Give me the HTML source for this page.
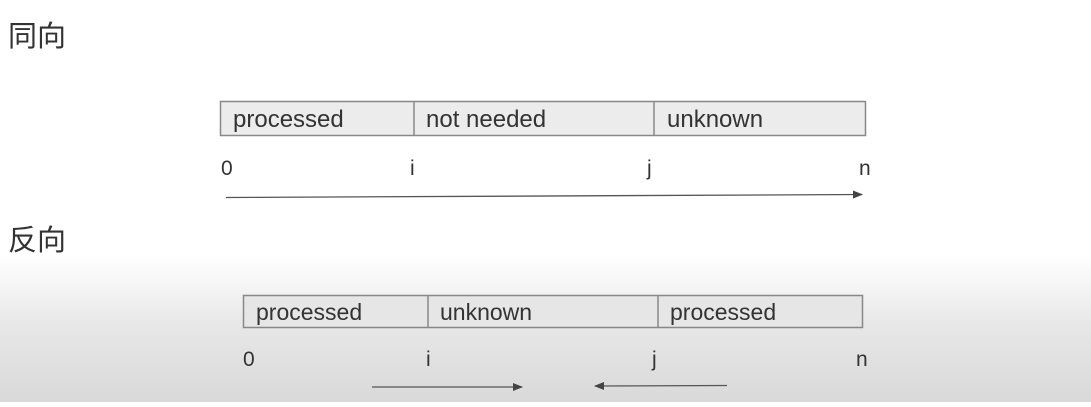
<!DOCTYPE html>
<html><head><meta charset="utf-8"><style>
html,body{margin:0;padding:0;}
body{width:1091px;height:402px;overflow:hidden;background:linear-gradient(#fff 0px,#fff 255px,#e6e6e6 330px,#d9d9d9 402px);}
svg text{font-family:"Liberation Sans","Noto Sans CJK SC",sans-serif;fill:#333;}
</style></head><body>
<svg width="1091" height="402" viewBox="0 0 1091 402" xmlns="http://www.w3.org/2000/svg">
<defs><marker id="a" markerWidth="10" markerHeight="8" refX="9" refY="4" orient="auto" markerUnits="userSpaceOnUse"><path d="M0,0 L10,4 L0,8 Z" fill="#444"/></marker></defs>
<text x="8" y="46" font-size="29" style="font-family:'Noto Sans CJK SC',sans-serif" fill="#444">同向</text>
<text x="8" y="250" font-size="29" style="font-family:'Noto Sans CJK SC',sans-serif" fill="#444">反向</text>
<rect x="220.5" y="101.5" width="645" height="34" fill="#ececec" stroke="#888" stroke-width="1.5"/>
<line x1="414" y1="101" x2="414" y2="136" stroke="#888" stroke-width="1.5"/>
<line x1="654" y1="101" x2="654" y2="136" stroke="#888" stroke-width="1.5"/>
<text x="233" y="127" font-size="24">processed</text>
<text x="426" y="127" font-size="24">not needed</text>
<text x="667" y="127" font-size="24">unknown</text>
<text x="221" y="175" font-size="21">0</text>
<text x="410" y="175" font-size="21">i</text>
<text x="647" y="175" font-size="21">j</text>
<text x="859" y="175" font-size="21">n</text>
<line x1="226" y1="197.5" x2="862" y2="194.5" stroke="#555" stroke-width="1.3" marker-end="url(#a)"/>
<rect x="243.5" y="295.5" width="619" height="32" fill="#e6e6e6" stroke="#888" stroke-width="1.5"/>
<line x1="428" y1="295" x2="428" y2="328" stroke="#888" stroke-width="1.5"/>
<line x1="658" y1="295" x2="658" y2="328" stroke="#888" stroke-width="1.5"/>
<text x="256" y="320" font-size="23">processed</text>
<text x="440" y="320" font-size="23">unknown</text>
<text x="670" y="320" font-size="23">processed</text>
<text x="243" y="366" font-size="21">0</text>
<text x="426" y="366" font-size="21">i</text>
<text x="652" y="366" font-size="21">j</text>
<text x="856" y="366" font-size="21">n</text>
<line x1="372" y1="387" x2="522" y2="387" stroke="#555" stroke-width="1.3" marker-end="url(#a)"/>
<line x1="727" y1="385.5" x2="595" y2="386" stroke="#555" stroke-width="1.3" marker-end="url(#a)"/>
</svg>
</body></html>
